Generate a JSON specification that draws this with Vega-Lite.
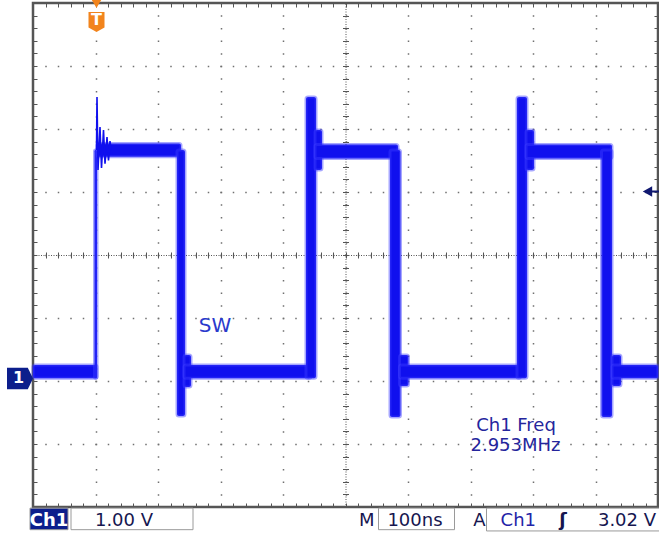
{
  "$schema": "https://vega.github.io/schema/vega-lite/v6.json",
  "width": 625,
  "height": 504,
  "autosize": "none",
  "padding": {"left": 33, "top": 3, "right": 1, "bottom": 26},
  "background": "white",
  "config": {
    "view": {"stroke": "#555555", "strokeWidth": 2.5},
    "axis": {"labels": false, "domain": false, "ticks": false, "grid": false}
  },
  "datasets": {
    "bands": [
      {"t": -100, "t2": 2.4, "v": 0.045, "v2": 0.255},
      {"t": -1.6, "t2": 2.4, "v": 0.045, "v2": 3.667},
      {"t": 2.4, "t2": 136.8, "v": 3.56, "v2": 3.77},
      {"t": 130.4, "t2": 143.2, "v": -0.556, "v2": 3.667},
      {"t": 141.6, "t2": 152.8, "v": -0.095, "v2": 0.413},
      {"t": 141.6, "t2": 344.8, "v": 0.045, "v2": 0.255},
      {"t": 336.8, "t2": 352.8, "v": 0.045, "v2": 4.508},
      {"t": 351.2, "t2": 362.4, "v": 3.349, "v2": 3.984},
      {"t": 351.2, "t2": 484, "v": 3.53, "v2": 3.755},
      {"t": 471.2, "t2": 488, "v": -0.571, "v2": 3.667},
      {"t": 486.4, "t2": 500.8, "v": -0.079, "v2": 0.413},
      {"t": 486.4, "t2": 680, "v": 0.045, "v2": 0.255},
      {"t": 674.4, "t2": 690.4, "v": 0.045, "v2": 4.508},
      {"t": 688.8, "t2": 701.6, "v": 3.349, "v2": 3.984},
      {"t": 688.8, "t2": 826.4, "v": 3.53, "v2": 3.755},
      {"t": 809.6, "t2": 826.4, "v": -0.571, "v2": 3.667},
      {"t": 826.4, "t2": 840.8, "v": -0.079, "v2": 0.413},
      {"t": 826.4, "t2": 900, "v": 0.045, "v2": 0.255}
    ],
    "spike": [
      {"t": 1.6, "v": 3.667},
      {"t": 2.4, "v": 4.508},
      {"t": 4.0, "v": 3.35},
      {"t": 7.2, "v": 4.032},
      {"t": 9.6, "v": 3.38},
      {"t": 12.8, "v": 3.984},
      {"t": 15.2, "v": 3.45},
      {"t": 18.4, "v": 3.873},
      {"t": 20.8, "v": 3.5},
      {"t": 23.2, "v": 3.81},
      {"t": 25.6, "v": 3.6}
    ],
    "sw": [{"t": 191.2, "v": 0.778, "label": "SW"}],
    "freq": [
      {"t": 672.8, "v": -0.794, "label": "Ch1 Freq"},
      {"t": 672.0, "v": -1.119, "label": "2.953MHz"}
    ],
    "boxes": [
      {"t": -104.8, "t2": -44, "v": -2.018, "v2": -2.36, "tone": "navy"},
      {"t": -39.2, "t2": 156, "v": -2.018, "v2": -2.36, "tone": "white"},
      {"t": 452.8, "t2": 574.4, "v": -2.018, "v2": -2.36, "tone": "white"},
      {"t": 625.6, "t2": 910, "v": -2.018, "v2": -2.38, "tone": "white"}
    ],
    "bartext": [
      {"t": 45.6, "v": -2.294, "label": "1.00 V", "tone": "d"},
      {"t": 433.9, "v": -2.294, "label": "M", "tone": "d"},
      {"t": 511.2, "v": -2.294, "label": "100ns", "tone": "d"},
      {"t": 614.4, "v": -2.294, "label": "A", "tone": "d"},
      {"t": 676.5, "v": -2.294, "label": "Ch1", "tone": "b"},
      {"t": 850.4, "v": -2.294, "label": "3.02 V", "tone": "d"}
    ],
    "barbold": [
      {"t": -74.4, "v": -2.294, "label": "Ch1", "tone": "w"},
      {"t": 748, "v": -2.294, "label": "ʃ", "tone": "d"}
    ]
  },
  "resolve": {"axis": {"x": "independent", "y": "independent"}},
  "layer": [
    {
      "data": {"name": "bands"},
      "mark": {"type": "rect", "fill": "#1010ee", "stroke": "#3c3cff", "strokeWidth": 3, "strokeOpacity": 0.45, "cornerRadius": 2},
      "encoding": {
        "x": {"field": "t", "type": "quantitative", "scale": {"domain": [-100, 900], "nice": false, "zero": false},
          "axis": {"title": null, "orient": "bottom", "values": [0, 100, 200, 300, 400, 500, 600, 700, 800], "grid": true, "gridDash": [1.5, 11.1], "gridDashOffset": 0.75, "gridColor": "#707070", "gridWidth": 1.5, "gridOpacity": 1, "ticks": false, "labels": false, "domain": false}},
        "x2": {"field": "t2"},
        "y": {"field": "v", "type": "quantitative", "scale": {"domain": [-2, 6], "nice": false, "zero": false},
          "axis": {"title": null, "orient": "left", "values": [-1, 0, 1, 2, 3, 4, 5], "grid": true, "gridDash": [1.5, 11], "gridDashOffset": 0.75, "gridColor": "#707070", "gridWidth": 1.5, "gridOpacity": 1, "ticks": false, "labels": false, "domain": false}},
        "y2": {"field": "v2"}
      }
    },
    {
      "data": {"name": "spike"},
      "mark": {"type": "line", "color": "#1010ee", "strokeWidth": 1.6},
      "encoding": {
        "x": {"field": "t", "type": "quantitative", "scale": {"domain": [-100, 900], "nice": false, "zero": false},
          "axis": {"title": null, "orient": "top", "offset": -504, "values": [-100,-80,-60,-40,-20,0,20,40,60,80,100,120,140,160,180,200,220,240,260,280,300,320,340,360,380,400,420,440,460,480,500,520,540,560,580,600,620,640,660,680,700,720,740,760,780,800,820,840,860,880,900], "ticks": true, "tickSize": 4, "tickColor": "#555555", "tickWidth": 1, "labels": false, "domain": false, "grid": false}},
        "y": {"field": "v", "type": "quantitative", "scale": {"domain": [-2, 6], "nice": false, "zero": false},
          "axis": {"title": null, "orient": "right", "offset": -625, "values": [-2,-1.8,-1.6,-1.4,-1.2,-1,-0.8,-0.6,-0.4,-0.2,0,0.2,0.4,0.6,0.8,1,1.2,1.4,1.6,1.8,2,2.2,2.4,2.6,2.8,3,3.2,3.4,3.6,3.8,4,4.2,4.4,4.6,4.8,5,5.2,5.4,5.6,5.8,6], "ticks": true, "tickSize": 4, "tickColor": "#555555", "tickWidth": 1, "labels": false, "domain": false, "grid": false}}
      }
    },
    {
      "data": {"name": "sw"},
      "mark": {"type": "text", "font": "DejaVu Sans", "fontSize": 20, "color": "#2a3acc", "align": "center", "baseline": "alphabetic"},
      "encoding": {
        "x": {"field": "t", "type": "quantitative", "scale": {"domain": [-100, 900], "nice": false, "zero": false},
          "axis": {"title": null, "orient": "bottom", "offset": -504, "values": [-100,-80,-60,-40,-20,0,20,40,60,80,100,120,140,160,180,200,220,240,260,280,300,320,340,360,380,400,420,440,460,480,500,520,540,560,580,600,620,640,660,680,700,720,740,760,780,800,820,840,860,880,900], "ticks": true, "tickSize": 4, "tickColor": "#555555", "tickWidth": 1, "labels": false, "domain": false, "grid": false}},
        "y": {"field": "v", "type": "quantitative", "scale": {"domain": [-2, 6], "nice": false, "zero": false},
          "axis": {"title": null, "orient": "left", "offset": -625, "values": [-2,-1.8,-1.6,-1.4,-1.2,-1,-0.8,-0.6,-0.4,-0.2,0,0.2,0.4,0.6,0.8,1,1.2,1.4,1.6,1.8,2,2.2,2.4,2.6,2.8,3,3.2,3.4,3.6,3.8,4,4.2,4.4,4.6,4.8,5,5.2,5.4,5.6,5.8,6], "ticks": true, "tickSize": 4, "tickColor": "#555555", "tickWidth": 1, "labels": false, "domain": false, "grid": false}},
        "text": {"field": "label"}
      }
    },
    {
      "data": {"name": "freq"},
      "mark": {"type": "text", "font": "DejaVu Sans", "fontSize": 18, "color": "#25259c", "align": "center", "baseline": "alphabetic"},
      "encoding": {
        "x": {"field": "t", "type": "quantitative", "scale": {"domain": [-100, 900], "nice": false, "zero": false},
          "axis": {"title": null, "orient": "bottom", "offset": -252, "values": [-100,-80,-60,-40,-20,0,20,40,60,80,100,120,140,160,180,200,220,240,260,280,300,320,340,360,380,400,420,440,460,480,500,520,540,560,580,600,620,640,660,680,700,720,740,760,780,800,820,840,860,880,900], "ticks": true, "tickSize": 3, "tickColor": "#555555", "tickWidth": 1, "labels": false, "domain": true, "domainColor": "#555555", "domainWidth": 1, "domainDash": [1, 1.5], "grid": false}},
        "y": {"field": "v", "type": "quantitative", "scale": {"domain": [-2, 6], "nice": false, "zero": false},
          "axis": {"title": null, "orient": "left", "offset": -312.5, "values": [-2,-1.8,-1.6,-1.4,-1.2,-1,-0.8,-0.6,-0.4,-0.2,0,0.2,0.4,0.6,0.8,1,1.2,1.4,1.6,1.8,2,2.2,2.4,2.6,2.8,3,3.2,3.4,3.6,3.8,4,4.2,4.4,4.6,4.8,5,5.2,5.4,5.6,5.8,6], "ticks": true, "tickSize": 3, "tickColor": "#555555", "tickWidth": 1, "labels": false, "domain": true, "domainColor": "#555555", "domainWidth": 1, "domainDash": [1, 1.5], "grid": false}},
        "text": {"field": "label"}
      }
    },
    {
      "data": {"name": "boxes"},
      "mark": {"type": "rect", "stroke": "#9a9a9a", "strokeWidth": 1},
      "encoding": {
        "x": {"field": "t", "type": "quantitative", "scale": {"domain": [-100, 900], "nice": false, "zero": false},
          "axis": {"title": null, "orient": "top", "offset": -252, "values": [-100,-80,-60,-40,-20,0,20,40,60,80,100,120,140,160,180,200,220,240,260,280,300,320,340,360,380,400,420,440,460,480,500,520,540,560,580,600,620,640,660,680,700,720,740,760,780,800,820,840,860,880,900], "ticks": true, "tickSize": 3, "tickColor": "#555555", "tickWidth": 1, "labels": false, "domain": false, "grid": false}},
        "x2": {"field": "t2"},
        "y": {"field": "v", "type": "quantitative", "scale": {"domain": [-2, 6], "nice": false, "zero": false},
          "axis": {"title": null, "orient": "right", "offset": -312.5, "values": [-2,-1.8,-1.6,-1.4,-1.2,-1,-0.8,-0.6,-0.4,-0.2,0,0.2,0.4,0.6,0.8,1,1.2,1.4,1.6,1.8,2,2.2,2.4,2.6,2.8,3,3.2,3.4,3.6,3.8,4,4.2,4.4,4.6,4.8,5,5.2,5.4,5.6,5.8,6], "ticks": true, "tickSize": 3, "tickColor": "#555555", "tickWidth": 1, "labels": false, "domain": false, "grid": false}},
        "y2": {"field": "v2"},
        "fill": {"field": "tone", "type": "nominal", "scale": {"domain": ["navy", "white"], "range": ["#0c1e8c", "#ffffff"]}, "legend": null}
      }
    },
    {
      "data": {"name": "bartext"},
      "mark": {"type": "text", "font": "DejaVu Sans", "fontSize": 18, "align": "center", "baseline": "alphabetic"},
      "encoding": {
        "x": {"field": "t", "type": "quantitative", "scale": {"domain": [-100, 900], "nice": false, "zero": false}, "axis": null},
        "y": {"field": "v", "type": "quantitative", "scale": {"domain": [-2, 6], "nice": false, "zero": false}, "axis": null},
        "text": {"field": "label"},
        "color": {"field": "tone", "type": "nominal", "scale": {"domain": ["w", "d", "b"], "range": ["#ffffff", "#161650", "#2323a8"]}, "legend": null}
      }
    },
    {
      "data": {"name": "barbold"},
      "mark": {"type": "text", "font": "DejaVu Sans", "fontSize": 18, "fontWeight": "bold", "align": "center", "baseline": "alphabetic"},
      "encoding": {
        "x": {"field": "t", "type": "quantitative", "scale": {"domain": [-100, 900], "nice": false, "zero": false}, "axis": null},
        "y": {"field": "v", "type": "quantitative", "scale": {"domain": [-2, 6], "nice": false, "zero": false}, "axis": null},
        "text": {"field": "label"},
        "color": {"field": "tone", "type": "nominal", "scale": {"domain": ["w", "d", "b"], "range": ["#ffffff", "#161650", "#2323a8"]}, "legend": null}
      }
    },
    {
      "data": {"values": [{"t": 1.6, "v": 5.698}]},
      "mark": {"type": "point", "shape": "M-0.8,-1 L0.8,-1 L0.8,0.55 L0,1 L-0.8,0.55 Z", "size": 400, "filled": true, "fill": "#f2841c", "opacity": 1, "strokeWidth": 0},
      "encoding": {
        "x": {"field": "t", "type": "quantitative", "scale": {"domain": [-100, 900], "nice": false, "zero": false}, "axis": null},
        "y": {"field": "v", "type": "quantitative", "scale": {"domain": [-2, 6], "nice": false, "zero": false}, "axis": null}
      }
    },
    {
      "data": {"values": [{"t": 1.6, "v": 5.984}]},
      "mark": {"type": "point", "shape": "triangle-down", "size": 90, "filled": true, "fill": "#f2841c", "opacity": 1, "strokeWidth": 0},
      "encoding": {
        "x": {"field": "t", "type": "quantitative", "scale": {"domain": [-100, 900], "nice": false, "zero": false}, "axis": null},
        "y": {"field": "v", "type": "quantitative", "scale": {"domain": [-2, 6], "nice": false, "zero": false}, "axis": null}
      }
    },
    {
      "data": {"values": [{"t": -120.8, "v": 0.04}]},
      "mark": {"type": "point", "shape": "M-1,-0.82 L0.6,-0.82 L1,0 L0.6,0.82 L-1,0.82 Z", "size": 676, "filled": true, "fill": "#0c1e8c", "opacity": 1, "strokeWidth": 0},
      "encoding": {
        "x": {"field": "t", "type": "quantitative", "scale": {"domain": [-100, 900], "nice": false, "zero": false}, "axis": null},
        "y": {"field": "v", "type": "quantitative", "scale": {"domain": [-2, 6], "nice": false, "zero": false}, "axis": null}
      }
    },
    {
      "data": {"values": [{"t": 889.6, "v": 3.008}]},
      "mark": {"type": "point", "shape": "M-1.3,0 L0.1,-0.8 L0.1,-0.15 L1.3,-0.15 L1.3,0.15 L0.1,0.15 L0.1,0.8 Z", "size": 180, "filled": true, "fill": "#101870", "opacity": 1, "strokeWidth": 0},
      "encoding": {
        "x": {"field": "t", "type": "quantitative", "scale": {"domain": [-100, 900], "nice": false, "zero": false}, "axis": null},
        "y": {"field": "v", "type": "quantitative", "scale": {"domain": [-2, 6], "nice": false, "zero": false}, "axis": null}
      }
    },
    {
      "data": {"values": [{"t": 1.6, "v": 5.73, "label": "T"}, {"t": -123.2, "v": 0.04, "label": "1"}]},
      "mark": {"type": "text", "font": "DejaVu Sans", "fontSize": 16, "fontWeight": "bold", "color": "#ffffff", "align": "center", "baseline": "middle"},
      "encoding": {
        "x": {"field": "t", "type": "quantitative", "scale": {"domain": [-100, 900], "nice": false, "zero": false}, "axis": null},
        "y": {"field": "v", "type": "quantitative", "scale": {"domain": [-2, 6], "nice": false, "zero": false}, "axis": null},
        "text": {"field": "label"}
      }
    }
  ]
}
